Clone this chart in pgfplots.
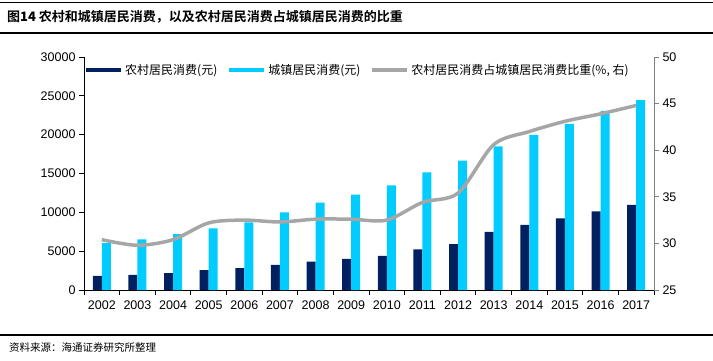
\documentclass[border=0pt]{standalone}
\usepackage{pgfplots}
\pgfplotsset{compat=1.18}
\usepackage{fontspec}
\setmainfont{Liberation Sans}
\newfontfamily\cjk{Noto Sans CJK SC}
\newfontfamily\cjkb{Noto Sans CJK SC Bold}
\definecolor{navy}{RGB}{0,32,96}
\definecolor{cyanb}{RGB}{0,204,255}
\definecolor{grayl}{RGB}{166,166,166}
\definecolor{axgray}{RGB}{128,128,128}
\begin{document}
\begin{tikzpicture}[x=1pt,y=1pt]
\path[use as bounding box] (0,0) rectangle (713,360);
\draw[line width=0.8pt] (0,358) -- (713,358);
\draw[line width=1.5pt] (0,327) -- (713,327);
\node[anchor=west,inner sep=0pt,font=\fontsize{13}{15}\selectfont] at (7,343) {\cjkb 图\textbf{14} 农村和城镇居民消费，以及农村居民消费占城镇居民消费的比重};
\draw[line width=1.2pt] (0,25) -- (713,25);
\node[anchor=west,inner sep=0pt,font=\fontsize{10.5}{12}\selectfont] at (9,13) {\cjk 资料来源：海通证券研究所整理};

\begin{axis}[at={(84pt,70pt)}, anchor=south west, width=570pt, height=233pt, scale only axis,
  xmin=-0.5, xmax=15.5, ymin=0, ymax=30000,
  axis x line=bottom, axis y line=left, axis line style={-, black, line width=0.8pt},
  xtick={0,...,15}, xticklabels={2002,2003,2004,2005,2006,2007,2008,2009,2010,2011,2012,2013,2014,2015,2016,2017},
  major x tick style={draw=none},
  minor xtick={-0.5,0.5,...,15.5}, minor tick length=5pt,
  minor x tick style={black, line width=0.8pt},
  ytick={0,5000,...,30000}, major tick length=5pt, tick align=outside,
  y tick style={black, line width=0.8pt},
  scaled y ticks=false,
  /pgf/number format/1000 sep={}, /pgf/number format/assume math mode=true,
  tick label style={font=\fontsize{12.5}{14}\selectfont},
  xticklabel style={yshift=-2pt},
  legend style={at={(0,1)}, anchor=north west, xshift=-3pt, yshift=-3pt, draw=none, fill=none,
    legend columns=3, font=\fontsize{12}{14}\selectfont\cjk,
    /tikz/every even column/.append style={column sep=8pt}},
  legend image code/.code={\draw[#1, line width=4pt] (0pt,0pt) -- (35pt,0pt);},
]
\addplot[ybar, bar width=9pt, bar shift=-4.5pt, fill=navy, draw=none, forget plot] coordinates {
(0,1834) (1,1943) (2,2185) (3,2555) (4,2829) (5,3224) (6,3661) (7,3993) (8,4382) (9,5221) (10,5908) (11,7485) (12,8383) (13,9223) (14,10130) (15,10955)};
\addplot[ybar, bar width=9pt, bar shift=4.5pt, fill=cyanb, draw=none, forget plot] coordinates {
(0,6030) (1,6511) (2,7182) (3,7943) (4,8697) (5,9997) (6,11243) (7,12265) (8,13471) (9,15161) (10,16674) (11,18488) (12,19968) (13,21392) (14,23079) (15,24445)};
\addlegendimage{navy}
\addlegendentry{农村居民消费(元)}
\addlegendimage{cyanb}
\addlegendentry{城镇居民消费(元)}
\addlegendimage{grayl}
\addlegendentry{农村居民消费占城镇居民消费比重(\%, 右)}
\end{axis}

\begin{axis}[at={(84pt,70pt)}, anchor=south west, width=570pt, height=233pt, scale only axis,
  xmin=-0.5, xmax=15.5, ymin=25, ymax=50,
  axis x line=none, axis y line=right, axis line style={-, axgray, line width=0.8pt},
  xtick=\empty,
  ytick={25,30,...,50}, major tick length=5pt, tick align=outside,
  y tick style={axgray, line width=0.8pt},
  /pgf/number format/assume math mode=true,
  tick label style={font=\fontsize{12.5}{14}\selectfont},
]
\addplot[grayl, line width=3.5pt, smooth, tension=0.5, mark=none] coordinates {
(0,30.4) (1,29.8) (2,30.4) (3,32.2) (4,32.5) (5,32.3) (6,32.6) (7,32.6) (8,32.5) (9,34.4) (10,35.4) (11,40.6) (12,42.0) (13,43.1) (14,43.9) (15,44.8)};
\end{axis}
\end{tikzpicture}
\end{document}
